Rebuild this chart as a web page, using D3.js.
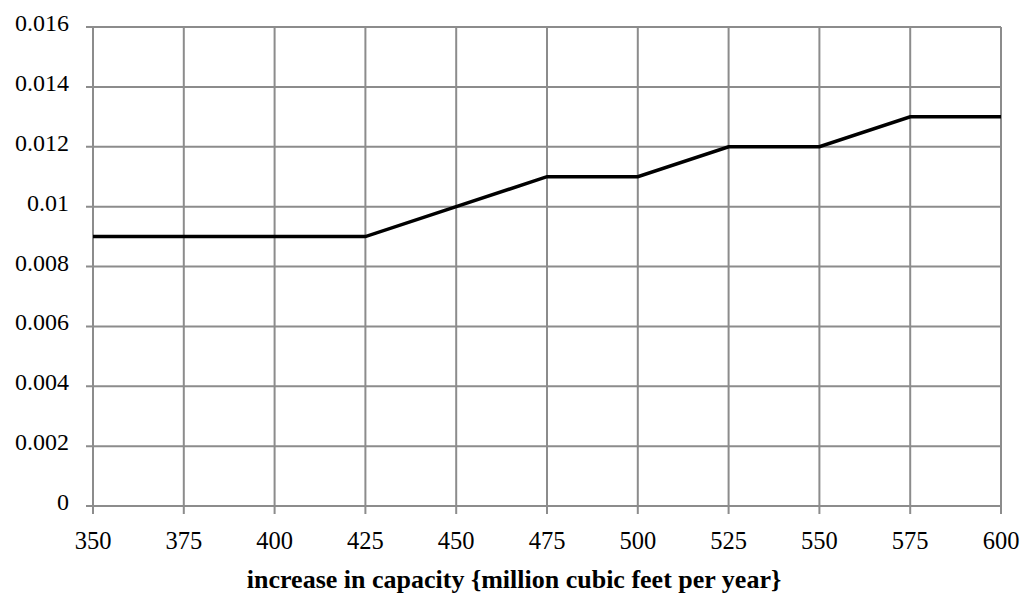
<!DOCTYPE html>
<html><head><meta charset="utf-8">
<script src="https://cdn.jsdelivr.net/npm/d3@7"></script>
<style>body{margin:0;background:#fff}svg{display:block}</style>
</head><body><svg id="c" width="1021" height="595"></svg>
<script>
const xValues = [350, 375, 400, 425, 450, 475, 500, 525, 550, 575, 600];
const yValues = [0.009, 0.009, 0.009, 0.009, 0.010, 0.011, 0.011, 0.012, 0.012, 0.013, 0.013];
const yTicks = [0, 0.002, 0.004, 0.006, 0.008, 0.01, 0.012, 0.014, 0.016];
const yTickLabels = ["0", "0.002", "0.004", "0.006", "0.008", "0.01", "0.012", "0.014", "0.016"];
const xTitle = "increase in capacity {million cubic feet per year}";

const svg = d3.select("#c");
const L = 93, R = 1001, T = 27, B = 506;
const x = d3.scaleLinear().domain([350, 600]).range([L, R]);
const y = d3.scaleLinear().domain([0, 0.016]).range([B, T]);
const font = "'Liberation Serif', 'Times New Roman', serif";
const grid = "#8c8c8c";

svg.append("g").selectAll("line").data(yTicks).join("line")
  .attr("x1", L - 7).attr("x2", R).attr("y1", d => y(d)).attr("y2", d => y(d))
  .attr("stroke", grid).attr("stroke-width", 2);
svg.append("g").selectAll("line").data(xValues).join("line")
  .attr("x1", d => x(d)).attr("x2", d => x(d)).attr("y1", T).attr("y2", B + 8)
  .attr("stroke", grid).attr("stroke-width", 2);

svg.append("g").selectAll("text").data(yTicks).join("text")
  .attr("x", 69).attr("y", d => y(d) + 4)
  .attr("text-anchor", "end").attr("font-family", font).attr("font-size", 24)
  .text((d, i) => yTickLabels[i]);

svg.append("g").selectAll("text").data(xValues).join("text")
  .attr("x", d => x(d)).attr("y", 549)
  .attr("text-anchor", "middle").attr("font-family", font).attr("font-size", 24.5)
  .text(d => d);

svg.append("text").attr("x", 514).attr("y", 588)
  .attr("text-anchor", "middle").attr("font-family", font).attr("font-size", 26)
  .attr("font-weight", "bold").text(xTitle);

svg.append("path").datum(xValues.map((v, i) => [v, yValues[i]]))
  .attr("d", d3.line().x(d => x(d[0])).y(d => y(d[1])))
  .attr("fill", "none").attr("stroke", "#000").attr("stroke-width", 3.5)
  .attr("stroke-linejoin", "miter");
</script></body></html>
